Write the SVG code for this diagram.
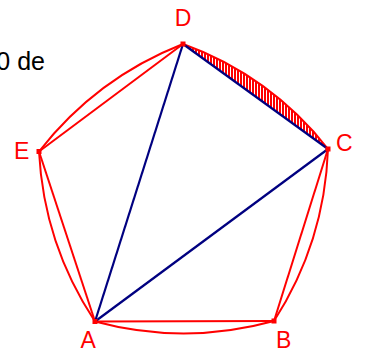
<svg xmlns="http://www.w3.org/2000/svg" width="365" height="351" viewBox="0 0 365 351">
<style>
.red{fill:none;stroke:#ff0000;stroke-width:2}
.blue{fill:none;stroke:#000080;stroke-width:2.2}
.pt{fill:#ff0000}
.lbl{font-family:"Liberation Sans",Arial,sans-serif;font-size:23px;fill:#ff0000}
.txt{font-family:"Liberation Sans",Arial,sans-serif;font-size:25px;fill:#000000}
</style>
<defs>
<pattern id="hatch" patternUnits="userSpaceOnUse" width="3" height="6">
<rect x="0" y="0" width="2" height="6" fill="#ff0000"/>
</pattern>
</defs>
<rect width="365" height="351" fill="#ffffff"/>
<text class="txt" x="45" y="69.5" text-anchor="end">0 de</text>
<g id="hatched-segment">
<path d="M328,149 A320,320 0 0 0 183,44 Z" fill="url(#hatch)" stroke="none"/>
</g>
<g id="connectors">
<path class="red" d="M95,321.5 A340,340 0 0 0 274,321"/>
<path class="red" d="M274,321 A340,340 0 0 0 328,149"/>
<path class="red" d="M328,149 A320,320 0 0 0 183,44"/>
<path class="red" d="M183,44 A340,340 0 0 0 39,151.5"/>
<path class="red" d="M39,151.5 A340,340 0 0 0 95,321.5"/>
<line class="red" x1="95" y1="321.5" x2="274" y2="321"/>
<line class="red" x1="274" y1="321" x2="328" y2="149"/>
<line class="red" x1="183" y1="44" x2="39" y2="151.5"/>
<line class="red" x1="39" y1="151.5" x2="95" y2="321.5"/>
<line class="blue" x1="183" y1="44" x2="328" y2="149"/>
<line class="blue" x1="183" y1="44" x2="95" y2="321.5"/>
<line class="blue" x1="95" y1="321.5" x2="328" y2="149"/>
</g>
<g id="A"><rect class="pt" x="92.5" y="319" width="5" height="5"/><text class="lbl" x="80.5" y="347.5">A</text></g>
<g id="B"><rect class="pt" x="271.5" y="318.5" width="5" height="5"/><text class="lbl" x="276" y="347.5">B</text></g>
<g id="C"><rect class="pt" x="325.5" y="146.5" width="5" height="5"/><text class="lbl" x="336" y="151">C</text></g>
<g id="D"><rect class="pt" x="180.5" y="41.5" width="5" height="5"/><text class="lbl" x="183" y="26" text-anchor="middle">D</text></g>
<g id="E"><rect class="pt" x="36.5" y="149" width="5" height="5"/><text class="lbl" x="14" y="158.5">E</text></g>
</svg>
